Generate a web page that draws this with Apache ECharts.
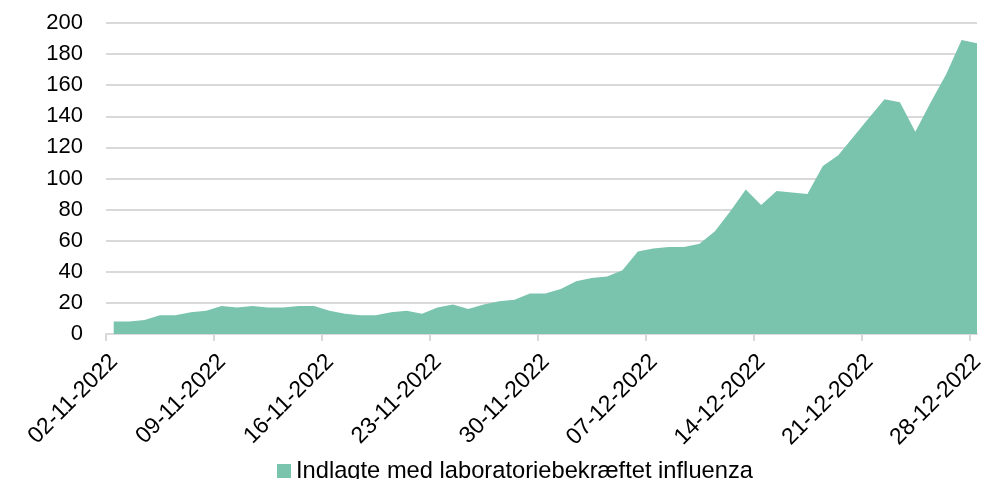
<!DOCTYPE html>
<html lang="da">
<head>
    <meta charset="UTF-8">
    <title>Indlagte med influenza</title>
    <script src="https://cdn.jsdelivr.net/npm/echarts@6/dist/echarts.min.js"></script>
    <style>
        body { margin: 0; background: #fff; }
        #chart { width: 982px; height: 479px; }
    </style>
</head>
<body>
<div id="chart"></div>
<script>
    // dagligt antal, 02-11-2022 .. 28-12-2022
    var seriesName = 'Indlagte med laboratoriebekræftet influenza';
    var values = [
        8, 8, 9, 12, 12, 14, 15, 18, 17, 18, 17, 17, 18, 18,
        15, 13, 12, 12, 14, 15, 13, 17, 19, 16, 19, 21, 22, 26,
        26, 29, 34, 36, 37, 41, 53, 55, 56, 56, 58, 66, 79, 93,
        83, 92, 91, 90, 108, 115, 127, 139, 151, 149, 130, 149, 167, 189,
        187
    ];
    var tickLabels = ['02-11-2022', '09-11-2022', '16-11-2022', '23-11-2022', '30-11-2022',
        '07-12-2022', '14-12-2022', '21-12-2022', '28-12-2022'];
    var yTicks = [0, 20, 40, 60, 80, 100, 120, 140, 160, 180, 200];

    // hver dag placeres midt i sit døgn
    var points = [];
    for (var i = 0; i < values.length; i++) {
        points.push([i + 0.5, values[i]]);
    }

    var font = 'Liberation Sans, Arial, sans-serif';
    var grey = '#d9d9d9';

    var myChart = echarts.init(document.getElementById('chart'));
    var option = {
        animation: false,
        textStyle: { fontFamily: font },
        grid: {
            left: 106,
            right: 5,
            top: 23,
            bottom: 145,
            containLabel: false,
            outerBoundsMode: 'none'
        },
        legend: {
            data: [seriesName],
            left: 272,
            top: 454,
            icon: 'rect',
            itemWidth: 14,
            itemHeight: 14,
            itemGap: 5,
            textStyle: { fontSize: 23.7, color: '#000', fontFamily: font }
        },
        xAxis: {
            type: 'value',
            min: 0,
            max: values.length - 0.5,
            interval: 7,
            axisLine: { lineStyle: { color: grey, width: 2 } },
            axisTick: { show: true, length: 7, lineStyle: { color: grey, width: 2 } },
            splitLine: { show: false },
            axisLabel: {
                rotate: 45,
                margin: 16,
                fontSize: 23,
                verticalAlign: 'top',
                color: '#000',
                fontFamily: font,
                showMaxLabel: false,
                formatter: function (v) {
                    var k = Math.round(v / 7);
                    return tickLabels[k] || '';
                }
            }
        },
        yAxis: {
            type: 'value',
            min: yTicks[0],
            max: yTicks[yTicks.length - 1],
            interval: 20,
            axisLine: { show: false },
            axisTick: { show: false },
            splitLine: { lineStyle: { color: grey, width: 2 } },
            axisLabel: {
                margin: 23,
                fontSize: 22,
                color: '#000',
                fontFamily: font
            }
        },
        series: [
            {
                name: seriesName,
                type: 'line',
                data: points,
                symbol: 'none',
                color: '#7ac4ad',
                lineStyle: { width: 0 },
                areaStyle: { color: '#7ac4ad', opacity: 1 }
            }
        ]
    };
    myChart.setOption(option);
</script>
</body>
</html>
